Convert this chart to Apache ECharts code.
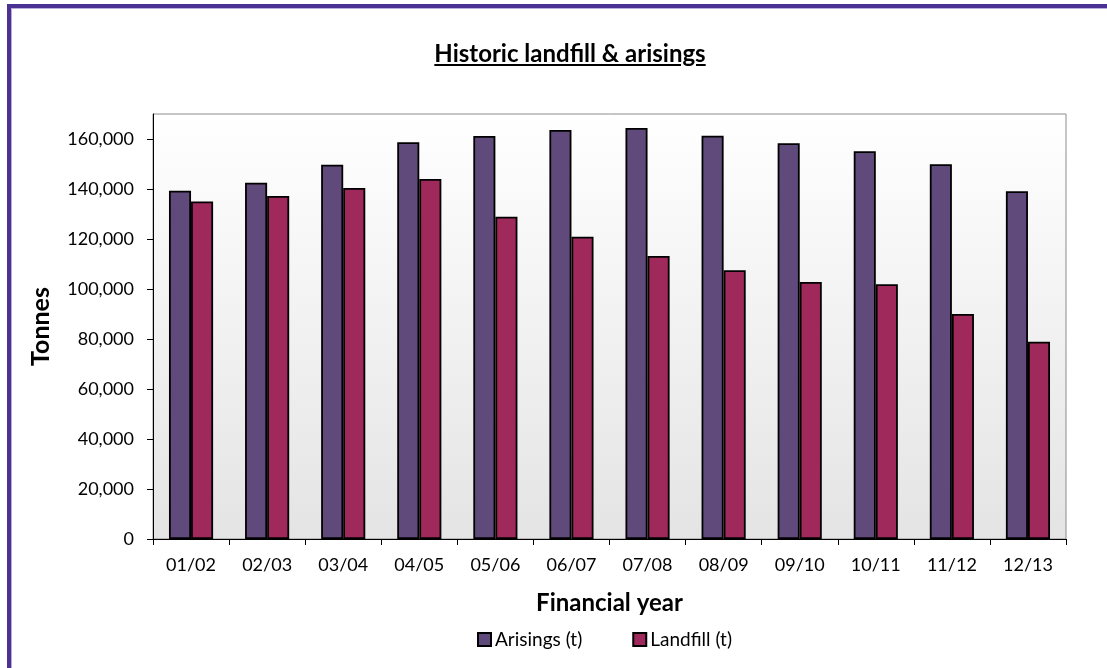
<!DOCTYPE html>
<html>
<head>
<meta charset="utf-8">
<script src="https://cdn.jsdelivr.net/npm/echarts@6/dist/echarts.min.js"></script>
<style>
  html, body { margin: 0; padding: 0; background: #fff; overflow: hidden; }
  #chart { position: absolute; left: 0; top: 0; width: 1107px; height: 668px; }
  #frame { position: absolute; left: 7px; top: 4px; width: 1200px; height: 800px;
           border-left: 4px solid #4B3292; border-top: 4px solid #4B3292; pointer-events: none; }
  #frame2 { position: absolute; left: 11px; top: 8px; width: 1200px; height: 800px;
           border-left: 1px solid #B9AEDB; border-top: 1px solid #B9AEDB; pointer-events: none; }
  #title { position: absolute; left: 0; width: 1140px; top: 38px; text-align: center;
           font-family: Lato, "Open Sans", sans-serif; font-weight: bold; font-size: 24px;
           text-decoration: underline; color: #000; }
</style>
</head>
<body>
<div id="chart"></div>
<div id="frame"></div>
<div id="frame2"></div>
<div id="title">Historic landfill &amp; arisings</div>
<script>
const categories = ['01/02','02/03','03/04','04/05','05/06','06/07','07/08','08/09','09/10','10/11','11/12','12/13'];
const arisings = [139300, 142500, 149700, 158700, 161200, 163600, 164400, 161300, 158300, 155100, 149900, 139100];
const landfill = [135000, 137200, 140400, 144000, 128900, 120900, 113200, 107500, 102800, 101900, 90000, 78900];
const seriesNames = ['Arisings (t)', 'Landfill (t)'];

const font = 'Lato, "Open Sans", sans-serif';
const chart = echarts.init(document.getElementById('chart'));
chart.setOption({
  animation: false,
  textStyle: { fontFamily: font },
  legend: {
    data: seriesNames,
    left: 472,
    bottom: 14,
    itemWidth: 13,
    itemHeight: 13,
    itemGap: 50,
    icon: 'rect',
    textStyle: { fontFamily: font, fontSize: 19, color: '#000', padding: [0, 0, 0, -1] }
  },
  grid: {
    left: 153, right: 41, top: 114, bottom: 129,
    show: true,
    borderColor: '#8c8c8c',
    borderWidth: 1,
    backgroundColor: new echarts.graphic.LinearGradient(0, 0, 0, 1, [
      { offset: 0, color: '#ffffff' },
      { offset: 1, color: '#e4e4e4' }
    ])
  },
  xAxis: {
    type: 'category',
    data: categories,
    name: 'Financial year',
    nameLocation: 'middle',
    nameGap: 52,
    nameTextStyle: { fontFamily: font, fontSize: 24, fontWeight: 'bold', color: '#000' },
    axisLine: { lineStyle: { color: '#000', width: 1 } },
    axisTick: { show: true, length: 6, lineStyle: { color: '#000' } },
    axisLabel: { fontFamily: font, fontSize: 18, color: '#000', margin: 17 },
    splitLine: { show: false }
  },
  yAxis: {
    type: 'value',
    min: 0,
    max: 170000,
    interval: 20000,
    name: 'Tonnes',
    nameLocation: 'middle',
    nameGap: 100,
    nameTextStyle: { fontFamily: font, fontSize: 25, fontWeight: 'bold', color: '#000' },
    axisLine: { show: true, lineStyle: { color: '#000', width: 1 } },
    axisTick: { show: true, length: 6, lineStyle: { color: '#000' } },
    axisLabel: {
      fontFamily: font, fontSize: 18, color: '#000', margin: 19,
      showMaxLabel: false,
      formatter: v => v.toLocaleString('en-US')
    },
    splitLine: { show: false }
  },
  series: [
    {
      name: seriesNames[0],
      type: 'bar',
      data: arisings,
      barGap: '0%',
      barCategoryGap: '42%',
      itemStyle: { color: '#604A7B', borderColor: '#000', borderWidth: 1.8 }
    },
    {
      name: seriesNames[1],
      type: 'bar',
      data: landfill,
      itemStyle: { color: '#A0295B', borderColor: '#000', borderWidth: 1.8 }
    }
  ]
});
</script>
</body>
</html>
